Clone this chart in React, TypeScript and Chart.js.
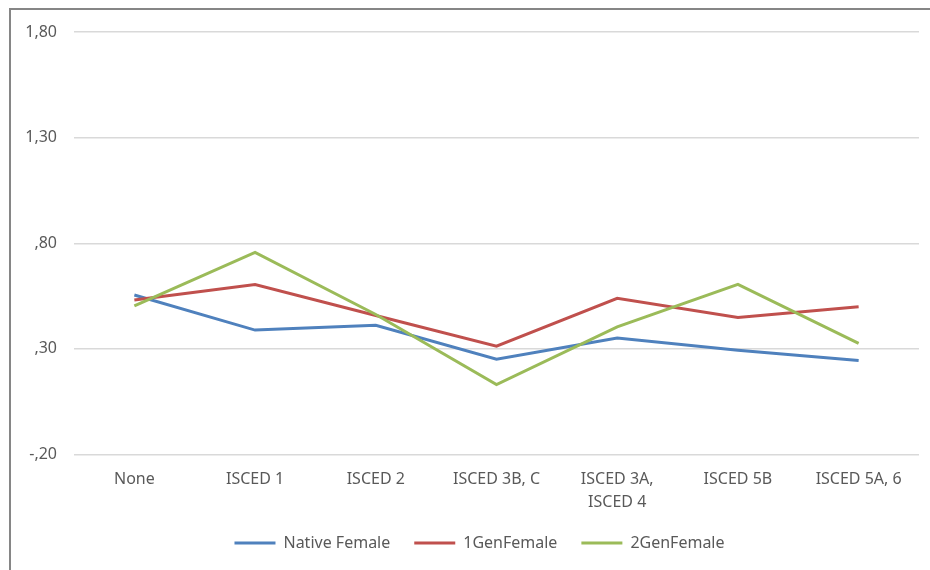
import React, { useEffect, useRef } from "react";
import { Chart, registerables } from "chart.js";

Chart.register(...registerables);

const categories: (string | string[])[] = [
  "None",
  "ISCED 1",
  "ISCED 2",
  "ISCED 3B, C",
  ["ISCED 3A,", "ISCED 4"],
  "ISCED 5B",
  "ISCED 5A, 6",
];
const nativeFemale = [0.555, 0.389, 0.412, 0.251, 0.351, 0.294, 0.245];
const gen1Female = [0.531, 0.605, 0.458, 0.313, 0.539, 0.449, 0.499];
const gen2Female = [0.504, 0.757, 0.463, 0.131, 0.404, 0.605, 0.326];
const yTicks = [-0.2, 0.3, 0.8, 1.3, 1.8];

const FONT = "'Noto Sans', sans-serif";
const TEXT = "#595959";

function fmt(v: number): string {
  let s = v.toFixed(2).replace(".", ",");
  s = s.replace(/^(-?)0,/, "$1,");
  return s;
}

const shiftLegend = {
  id: "shiftLegend",
  afterLayout(chart: any) {
    const lg = chart.legend;
    if (lg) {
      lg.left += 20;
      lg.right += 20;
    }
  },
};

export default function App() {
  const ref = useRef<HTMLCanvasElement | null>(null);
  useEffect(() => {
    if (!ref.current) return;
    const chart = new Chart(ref.current, {
      type: "line",
      data: {
        labels: categories,
        datasets: [
          { label: "Native Female", data: nativeFemale, borderColor: "#4F81BD", backgroundColor: "#4F81BD", order: 2 },
          { label: "1GenFemale", data: gen1Female, borderColor: "#C0504D", backgroundColor: "#C0504D", order: 1 },
          { label: "2GenFemale", data: gen2Female, borderColor: "#9BBB59", backgroundColor: "#9BBB59", order: 0 },
        ].map((d) => ({ ...d, borderWidth: 3, pointRadius: 0, tension: 0, fill: false })),
      },
      plugins: [shiftLegend],
      options: {
        animation: false,
        responsive: false,
        maintainAspectRatio: false,
        layout: { padding: { left: 0, right: 11, top: 32, bottom: 9 } },
        plugins: {
          tooltip: { enabled: false },
          legend: {
            position: "bottom",
            labels: {
              usePointStyle: true,
              pointStyle: "line",
              pointStyleWidth: 41,
              padding: 24,
              color: TEXT,
              font: { family: FONT, size: 16 },
              sort: (a: any, b: any) => a.datasetIndex - b.datasetIndex,
            },
          },
        },
        scales: {
          x: {
            offset: true,
            grid: { display: false, drawTicks: false },
            border: { display: false },
            ticks: {
              color: TEXT,
              font: { family: FONT, size: 16, lineHeight: 1.45 },
              padding: 13,
              maxRotation: 0,
              autoSkip: false,
            },
            afterFit: (s: any) => {
              s.height = 56.5;
            },
          },
          y: {
            min: -0.2,
            max: 1.8,
            grid: { color: "#D9D9D9", lineWidth: 1.5, drawTicks: false },
            border: { display: false },
            ticks: {
              color: TEXT,
              font: { family: FONT, size: 16 },
              padding: 17,
              callback: (v: any) => fmt(Number(v)),
            },
            afterBuildTicks: (s: any) => {
              s.ticks = yTicks.map((v) => ({ value: v }));
            },
            afterFit: (s: any) => {
              s.width = 74;
            },
          },
        },
      },
    });
    return () => chart.destroy();
  }, []);
  return (
    <div style={{ position: "absolute", left: 0, top: 0, width: 930, height: 570, background: "#fff" }}>
      <div
        style={{
          position: "absolute",
          left: 9,
          top: 8,
          width: 930,
          height: 570,
          borderTop: "2px solid #868686",
          borderLeft: "2px solid #868686",
          boxSizing: "border-box",
        }}
      />
      <canvas ref={ref} width={930} height={570} style={{ position: "absolute", left: 0, top: 0 }} />
    </div>
  );
}
